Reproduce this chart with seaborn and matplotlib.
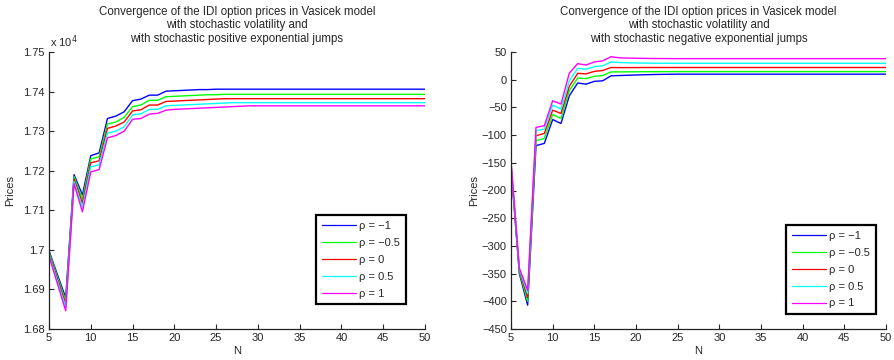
import matplotlib
matplotlib.use("Agg")
import matplotlib.pyplot as plt
import numpy as np
import pandas as pd
import seaborn as sns
from matplotlib.ticker import FuncFormatter, MultipleLocator

# ---------------- data ----------------
N = list(range(5, 51))
rho_labels = ["ρ = −1", "ρ = −0.5", "ρ = 0", "ρ = 0.5", "ρ = 1"]
colors = ["#0000ff", "#00ff00", "#ff0000", "#00ffff", "#ff00ff"]

# positive jumps (prices)
pos_m1 = [16998, 16938, 16879, 17190, 17139, 17238, 17245, 17332, 17338, 17349,
          17377, 17381, 17391, 17391, 17401, 17402, 17403, 17404, 17405, 17405,
          17406, 17406, 17406, 17406, 17406, 17406, 17406, 17406, 17406, 17406,
          17406, 17406, 17406, 17406, 17406, 17406, 17406, 17406, 17406, 17406,
          17406, 17406, 17406, 17406, 17406, 17406]
pos_m05 = [16995, 16933, 16871, 17185, 17128, 17230, 17235, 17318, 17323, 17335,
           17362, 17366, 17378, 17378, 17387, 17388, 17389, 17390, 17391, 17392,
           17392, 17393, 17393, 17393, 17393, 17393, 17393, 17393, 17393, 17393,
           17393, 17393, 17393, 17393, 17393, 17393, 17393, 17393, 17393, 17393,
           17393, 17393, 17393, 17393, 17393, 17393]
pos_0 = [16991, 16927, 16863, 17179, 17118, 17220, 17225, 17307, 17313, 17323,
         17351, 17354, 17366, 17366, 17375, 17376, 17377, 17378, 17379, 17380,
         17381, 17382, 17382, 17382, 17382, 17382, 17382, 17382, 17382, 17382,
         17382, 17382, 17382, 17382, 17382, 17382, 17382, 17382, 17382, 17382,
         17382, 17382, 17382, 17382, 17382, 17382]
pos_p05 = [16988, 16921, 16855, 17173, 17107, 17210, 17215, 17295, 17300, 17311,
           17341, 17344, 17355, 17355, 17364, 17365, 17366, 17367, 17368, 17369,
           17370, 17371, 17372, 17372, 17372, 17372, 17372, 17372, 17372, 17372,
           17372, 17372, 17372, 17372, 17372, 17372, 17372, 17372, 17372, 17372,
           17372, 17372, 17372, 17372, 17372, 17372]
pos_p1 = [16984, 16915, 16846, 17167, 17096, 17197, 17203, 17283, 17289, 17300,
          17330, 17332, 17343, 17345, 17353, 17355, 17356, 17357, 17358, 17359,
          17360, 17361, 17362, 17363, 17364, 17364, 17364, 17364, 17364, 17364,
          17364, 17364, 17364, 17364, 17364, 17364, 17364, 17364, 17364, 17364,
          17364, 17364, 17364, 17364, 17364, 17364]

# negative jumps (prices)
neg_m1 = [-158, -350, -407, -119, -115, -72, -79, -29, -6, -8,
          -3, -2, 7, 7.5, 8, 8.5, 9, 9.3, 9.6, 9.8,
          10, 10, 10, 10, 10, 10, 10, 10, 10, 10,
          10, 10, 10, 10, 10, 10, 10, 10, 10, 10,
          10, 10, 10, 10, 10, 10]
neg_m05 = [-155, -347, -400, -110, -106, -63, -70, -20, 3, 2,
           6, 7.5, 14, 14.1, 14.2, 14.3, 14.4, 14.5, 14.5, 14.6,
           14.6, 14.6, 14.6, 14.6, 14.6, 14.6, 14.6, 14.6, 14.6, 14.6,
           14.6, 14.6, 14.6, 14.6, 14.6, 14.6, 14.6, 14.6, 14.6, 14.6,
           14.6, 14.6, 14.6, 14.6, 14.6, 14.6]
neg_0 = [-152, -344, -393, -101, -97, -55, -61, -12, 11.5, 10.5,
         15, 16.5, 22, 21.8, 21.8, 21.9, 22, 22, 22, 22,
         22, 22, 22, 22, 22, 22, 22, 22, 22, 22,
         22, 22, 22, 22, 22, 22, 22, 22, 22, 22,
         22, 22, 22, 22, 22, 22]
neg_p05 = [-149, -342, -386, -92, -89, -46, -53, -2, 20.5, 19,
           23.5, 25, 32, 31, 30.5, 30.2, 30, 29.8, 29.7, 29.6,
           29.6, 29.6, 29.6, 29.6, 29.6, 29.6, 29.6, 29.6, 29.6, 29.6,
           29.6, 29.6, 29.6, 29.6, 29.6, 29.6, 29.6, 29.6, 29.6, 29.6,
           29.6, 29.6, 29.6, 29.6, 29.6, 29.6]
neg_p1 = [-146, -340, -380, -86, -83, -38, -44, 12, 29, 26.5,
          32, 34, 41.5, 39.5, 39, 38.7, 38.5, 38.3, 38.2, 38.1,
          38, 38, 38, 38, 38, 38, 38, 38, 38, 38,
          38, 38, 38, 38, 38, 38, 38, 38, 38, 38,
          38, 38, 38, 38, 38, 38]

title_pos = ("Convergence of the IDI option prices in Vasicek model\n"
             "with stochastic volatility and\n"
             "with stochastic positive exponential jumps")
title_neg = ("Convergence of the IDI option prices in Vasicek model\n"
             "with stochastic volatility and\n"
             "with stochastic negative exponential jumps")


def long_df(series):
    rows = []
    for lab, vals in zip(rho_labels, series):
        for n, v in zip(N, vals):
            rows.append({"N": n, "Price": v, "rho": lab})
    return pd.DataFrame(rows)


df_pos = long_df([pos_m1, pos_m05, pos_0, pos_p05, pos_p1])
df_neg = long_df([neg_m1, neg_m05, neg_0, neg_p05, neg_p1])

# ---------------- style ----------------
sns.set_style("ticks")
plt.rcParams['font.family'] = ['Liberation Sans', 'DejaVu Sans']
plt.rcParams['axes.unicode_minus'] = True

fig = plt.figure(figsize=(8.95, 3.6), dpi=100)
ax1 = fig.add_axes([49 / 895, 1 - 329 / 360, 376 / 895, 277 / 360])
ax2 = fig.add_axes([511 / 895, 1 - 329 / 360, 375 / 895, 277 / 360])

pal = dict(zip(rho_labels, colors))
fs = 8
tfs = 8.3

for ax, df, title in [(ax1, df_pos, title_pos), (ax2, df_neg, title_neg)]:
    sns.lineplot(data=df, x="N", y="Price", hue="rho", hue_order=rho_labels,
                 palette=pal, ax=ax, lw=1.0, legend=True)
    ax.set_xlim(5, 50)
    ax.xaxis.set_major_locator(MultipleLocator(5))
    ax.set_xlabel("N", fontsize=fs, labelpad=2)
    ax.set_ylabel("Prices", fontsize=fs)
    ax.set_title(title, fontsize=tfs, pad=7, linespacing=1.2)
    ax.tick_params(direction="in", length=3.5, width=0.8, labelsize=fs, pad=3)
    for s in ["top", "right"]:
        ax.spines[s].set_visible(False)
    for s in ["left", "bottom"]:
        ax.spines[s].set_linewidth(0.9)
        ax.spines[s].set_color("#222222")

ax1.set_ylim(16800, 17500)
ax1.yaxis.set_major_locator(MultipleLocator(100))
ax1.yaxis.set_major_formatter(FuncFormatter(lambda v, p: "%g" % round(v / 1e4, 4)))
ax1.text(0.003, 1.008, r"x 10$^4$", transform=ax1.transAxes, fontsize=fs,
         ha="left", va="bottom")
ax1.yaxis.labelpad = 6

ax2.set_ylim(-450, 50)
ax2.yaxis.set_major_locator(MultipleLocator(50))
ax2.yaxis.labelpad = 2

for ax, anchor in [(ax1, (0.949, 0.090)), (ax2, (0.973, 0.054))]:
    h, l = ax.get_legend_handles_labels()
    leg = ax.legend(h, l, loc="lower right", bbox_to_anchor=anchor,
                    fontsize=fs, frameon=True, fancybox=False, framealpha=1,
                    edgecolor="black", handlelength=3.1, handletextpad=0.3,
                    labelspacing=0.62, borderpad=0.5, borderaxespad=0)
    leg.get_frame().set_linewidth(1.6)
    for line in leg.get_lines():
        line.set_linewidth(0.9)

fig.savefig("out.png", dpi=100)
